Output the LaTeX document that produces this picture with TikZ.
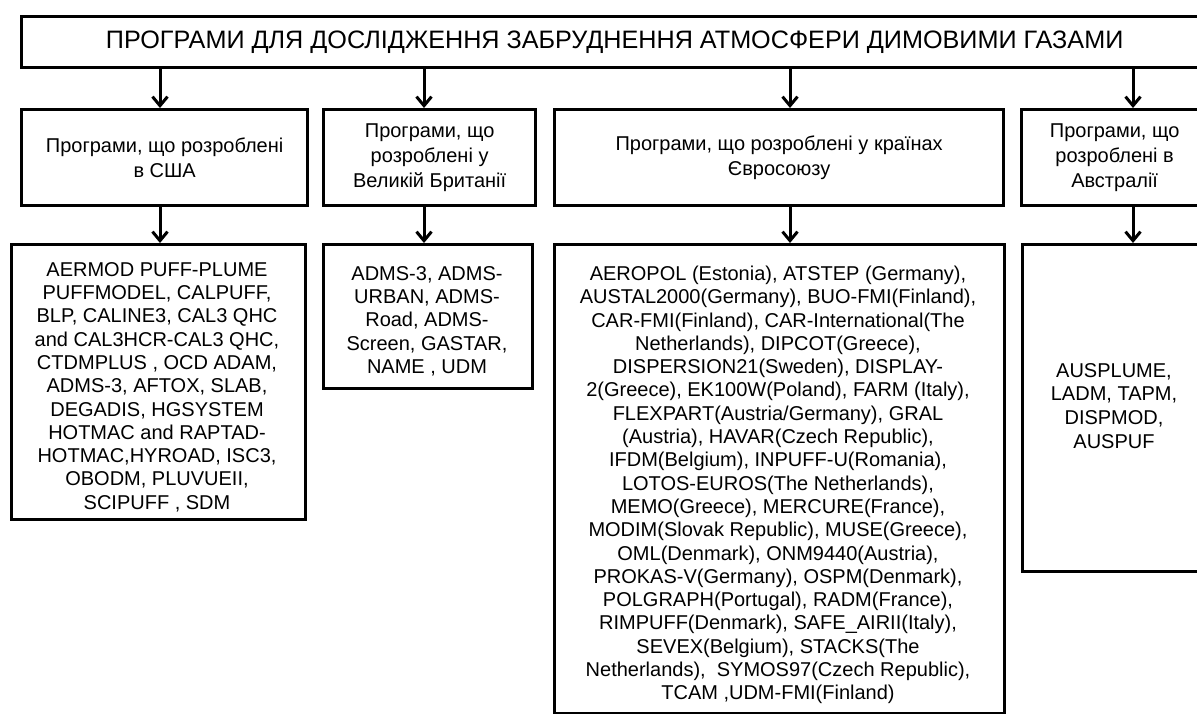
\documentclass[tikz,border=0pt]{standalone}
\usepackage{fontspec}
\setmainfont{Liberation Sans}
\usetikzlibrary{arrows.meta}
\begin{document}
\begin{tikzpicture}[x=1pt,y=-1pt,
  box/.style={draw=black, line width=3.3pt, fill=white, inner sep=0pt, anchor=north west},
  txt/.style={align=center, inner sep=0pt, font=\fontsize{20}{23.3}\selectfont},
  hdr/.style={box, align=center, font=\fontsize{20}{25}\selectfont},
  arr/.style={line width=3pt, -{Straight Barb[length=9pt,width=15pt,line width=3pt]}}
]
\fill[white] (0,0) rectangle (1197,713);
\useasboundingbox (0,0) rectangle (1197,713);

% title
\node[hdr, font=\fontsize{25.2}{28}\selectfont, minimum width=1186pt, minimum height=51pt] (title) at (20,15)
  {ПРОГРАМИ ДЛЯ ДОСЛІДЖЕННЯ ЗАБРУДНЕННЯ АТМОСФЕРИ ДИМОВИМИ ГАЗАМИ};

% headers
\node[hdr, minimum width=286pt, minimum height=96pt] (hUS) at (20,108)
  {Програми, що розроблені\\в США};
\node[hdr, minimum width=212pt, minimum height=96pt] (hUK) at (322,108)
  {Програми, що\\розроблені у\\Великій Британії};
\node[hdr, minimum width=449pt, minimum height=96pt] (hEU) at (553,108)
  {Програми, що розроблені у країнах\\Євросоюзу};
\node[hdr, minimum width=186pt, minimum height=96pt] (hAU) at (1020,108)
  {Програми, що\\розроблені в\\Австралії};

% content boxes
\node[box, minimum width=294pt, minimum height=275pt] (cUS) at (10,243) {};
\node[box, minimum width=209pt, minimum height=144pt] (cUK) at (322,243) {};
\node[box, minimum width=450pt, minimum height=469pt] (cEU) at (553,243) {};
\node[box, minimum width=185pt, minimum height=327pt] (cAU) at (1021,243) {};

% content texts
\node[txt] (tUS) at (157,387) {AERMOD PUFF-PLUME\\PUFFMODEL, CALPUFF,\\BLP, CALINE3, CAL3 QHC\\and CAL3HCR-CAL3 QHC,\\CTDMPLUS , OCD ADAM,\\ADMS-3, AFTOX, SLAB,\\DEGADIS, HGSYSTEM\\HOTMAC and RAPTAD-\\HOTMAC,HYROAD, ISC3,\\OBODM, PLUVUEII,\\SCIPUFF , SDM};
\node[txt] (tUK) at (427,321) {ADMS-3, ADMS-\\URBAN, ADMS-\\Road, ADMS-\\Screen, GASTAR,\\NAME , UDM};
\node[txt] (tEU) at (778,485) {AEROPOL (Estonia), ATSTEP (Germany),\\AUSTAL2000(Germany), BUO-FMI(Finland),\\CAR-FMI(Finland), CAR-International(The\\Netherlands), DIPCOT(Greece),\\DISPERSION21(Sweden), DISPLAY-\\2(Greece), EK100W(Poland), FARM (Italy),\\FLEXPART(Austria/Germany), GRAL\\(Austria), HAVAR(Czech Republic),\\IFDM(Belgium), INPUFF-U(Romania),\\LOTOS-EUROS(The Netherlands),\\MEMO(Greece), MERCURE(France),\\MODIM(Slovak Republic), MUSE(Greece),\\OML(Denmark), ONM9440(Austria),\\PROKAS-V(Germany), OSPM(Denmark),\\POLGRAPH(Portugal), RADM(France),\\RIMPUFF(Denmark), SAFE\_AIRII(Italy),\\SEVEX(Belgium), STACKS(The\\Netherlands),\ \ SYMOS97(Czech Republic),\\TCAM ,UDM-FMI(Finland)};
\node[txt, font=\fontsize{20}{23.8}\selectfont] (tAU) at (1114,406) {AUSPLUME,\\LADM, TAPM,\\DISPMOD,\\AUSPUF};

% arrow x positions
\coordinate (aUS) at (160,0);
\coordinate (aUK) at (424,0);
\coordinate (aEU) at (790,0);
\coordinate (aAU) at (1133,0);

\draw[arr] (title.south -| aUS) -- (hUS.north -| aUS);
\draw[arr] (title.south -| aUK) -- (hUK.north -| aUK);
\draw[arr] (title.south -| aEU) -- (hEU.north -| aEU);
\draw[arr] (title.south -| aAU) -- (hAU.north -| aAU);

\draw[arr] (hUS.south -| aUS) -- (cUS.north -| aUS);
\draw[arr] (hUK.south -| aUK) -- (cUK.north -| aUK);
\draw[arr] (hEU.south -| aEU) -- (cEU.north -| aEU);
\draw[arr] (hAU.south -| aAU) -- (cAU.north -| aAU);
\end{tikzpicture}
\end{document}
